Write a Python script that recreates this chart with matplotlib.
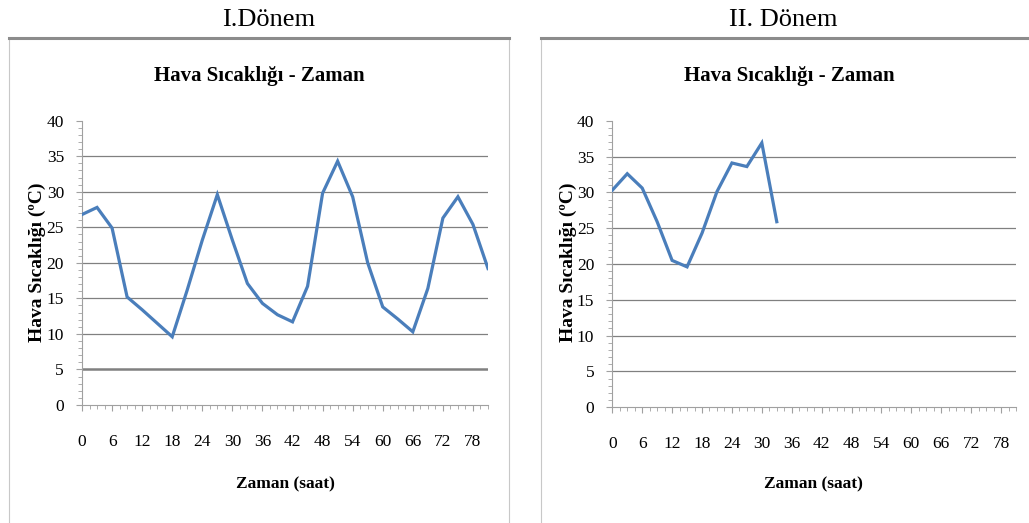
import matplotlib
matplotlib.use("Agg")
import matplotlib.pyplot as plt
from matplotlib.patches import Rectangle
from matplotlib.ticker import MultipleLocator

# ---- data ----
hours_1 = [0, 3, 6, 9, 12, 15, 18, 21, 24, 27, 30, 33, 36, 39, 42, 45, 48, 51, 54,
           57, 60, 63, 66, 69, 72, 75, 78, 81]
temp_1 = [26.8, 27.8, 24.9, 15.2, 13.4, 11.5, 9.6, 16.2, 23.2, 29.6, 23.2, 17.1, 14.3,
          12.7, 11.7, 16.7, 29.8, 34.3, 29.3, 20.0, 13.8, 12.1, 10.3, 16.4, 26.3, 29.3,
          25.4, 19.2]
hours_2 = [0, 3, 6, 9, 12, 15, 18, 21, 24, 27, 30, 33]
temp_2 = [30.3, 32.6, 30.6, 25.9, 20.5, 19.6, 24.3, 30.1, 34.1, 33.6, 36.9, 25.9]

x_ticks = [0, 6, 12, 18, 24, 30, 36, 42, 48, 54, 60, 66, 72, 78]
y_ticks = [0, 5, 10, 15, 20, 25, 30, 35, 40]
panel_titles = ["I.Dönem", "II. Dönem"]
chart_title = "Hava Sıcaklığı - Zaman"
x_label = "Zaman (saat)"
y_labels = ["Hava Sıcaklığı (ºC)", "Hava Sıcaklığı (ºC)"]

W, H = 1029, 523
fig = plt.figure(figsize=(W / 100, H / 100), dpi=100)
plt.rcParams['font.family'] = ['Liberation Serif', 'DejaVu Serif']

def fx(px):
    return px / W

def fy(py):
    return 1 - py / H

# panel borders
for (x0, x1) in [(9, 509), (541, 1035)]:
    r = Rectangle((fx(x0), fy(H + 5)), fx(x1) - fx(x0), fy(38) - fy(H + 5),
                  transform=fig.transFigure, fill=False, edgecolor='#c8c8c8', lw=0.8)
    fig.add_artist(r)
    fig.add_artist(plt.Line2D([fx(x0), fx(x1)], [fy(38), fy(38)],
                              transform=fig.transFigure, color='#8c8c8c', lw=2.2))

BLUE = '#4a7ebb'
GRID = '#808080'

specs = [
    dict(ax=(82, 120.7, 488, 405), hrs=hours_1, tmp=temp_1, title_x=269, ctitle_x=259,
         ylab_x=37, xlab_x=285, ptitle=panel_titles[0], ylab=y_labels[0], thick5=True),
    dict(ax=(612.3, 120.7, 1016, 407.3), hrs=hours_2, tmp=temp_2, title_x=783, ctitle_x=789,
         ylab_x=568, xlab_x=813, ptitle=panel_titles[1], ylab=y_labels[1], thick5=False),
]

for s in specs:
    x0, y0, x1, y1 = s['ax']
    ax = fig.add_axes([fx(x0), fy(y1), fx(x1) - fx(x0), fy(y0) - fy(y1)])
    ax.set_xlim(0, 81)
    ax.set_ylim(0, 40)
    for yv in y_ticks[1:-1]:
        lw = 1.8 if (s['thick5'] and yv == 5) else 0.9
        ax.axhline(yv, color=GRID, lw=lw, zorder=1)
    ax.plot(s['hrs'], s['tmp'], color=BLUE, lw=2.3, zorder=3, solid_joinstyle='miter')
    for sp in ['top', 'right']:
        ax.spines[sp].set_visible(False)
    ax.spines['left'].set_color('#a0a0a0')
    ax.spines['bottom'].set_color('#a0a0a0')
    ax.spines['left'].set_linewidth(0.8)
    ax.spines['bottom'].set_linewidth(0.8)
    ax.set_xticks(x_ticks)
    ax.set_yticks(y_ticks)
    ax.xaxis.set_minor_locator(MultipleLocator(1.5))
    ax.yaxis.set_minor_locator(MultipleLocator(1))
    ax.tick_params(axis='both', which='major', direction='out', color='#a0a0a0',
                   length=4, width=0.8, labelsize=12.5)
    ax.tick_params(axis='both', which='minor', direction='out', color='#a0a0a0',
                   length=3, width=0.6)
    ax.tick_params(axis='x', which='major', pad=17)
    ax.tick_params(axis='y', which='major', pad=9)
    ax.set_facecolor('none')
    fig.text(fx(s['title_x']), fy(20), s['ptitle'], ha='center', va='center', fontsize=19)
    fig.text(fx(s['ctitle_x']), fy(76), chart_title, ha='center', va='center',
             fontsize=15, fontweight='bold')
    fig.text(fx(s['xlab_x']), fy(484), x_label, ha='center', va='center',
             fontsize=12.5, fontweight='bold')
    fig.text(fx(s['ylab_x']), fy(262), s['ylab'], ha='center', va='center',
             fontsize=14, fontweight='bold', rotation=90)

fig.savefig('out.png', dpi=100, facecolor='white')
